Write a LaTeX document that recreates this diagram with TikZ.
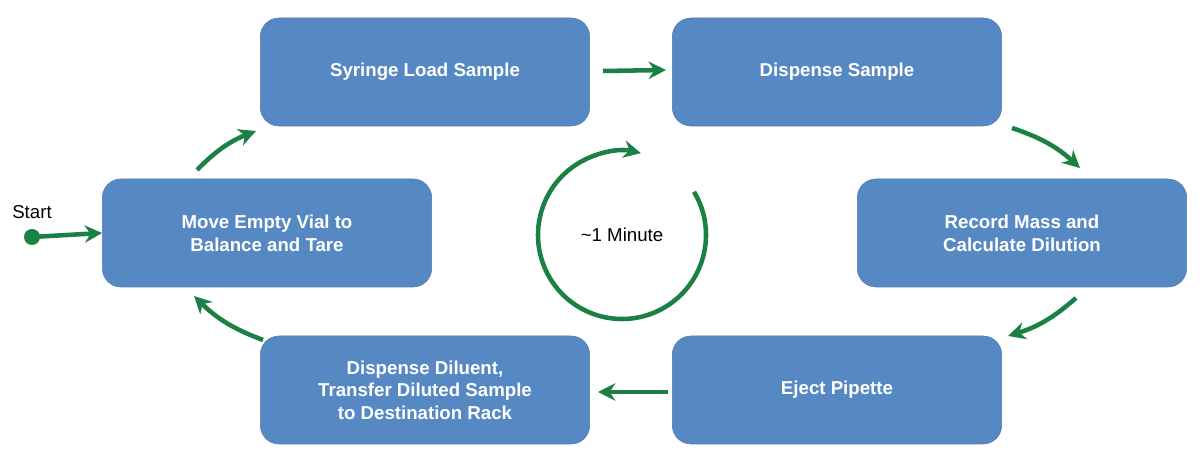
\documentclass[tikz,border=0pt]{standalone}
\usepackage{fontspec}
\setmainfont{Liberation Sans}
\usetikzlibrary{arrows.meta}
\definecolor{boxblue}{HTML}{5689C4}
\definecolor{boxedge}{HTML}{4A78AE}
\definecolor{flowgreen}{HTML}{1B8043}
\tikzset{
  stage/.style={draw=boxedge, fill=boxblue, rounded corners=14pt, minimum width=247pt,
    minimum height=81pt, text=white, font=\bfseries\fontsize{14}{17}\selectfont,
    align=center},
  flow/.style={draw=flowgreen, line width=3.4pt, -{Stealth[length=13pt,width=13pt]}}
}
\begin{document}
\begin{tikzpicture}[x=0.75pt,y=-0.75pt]
        \useasboundingbox (0,0) rectangle (1200,466);
        \node[stage] (load) at (425,72) {Syringe Load Sample};
        \node[stage] (disp) at (837,72) {Dispense Sample};
        \node[stage] (move) at (267,233) {Move Empty Vial to\\Balance and Tare};
        \node[stage] (rec) at (1022,233) {Record Mass and\\Calculate Dilution};
        \node[stage] (dil) at (425,390) {Dispense Diluent,\\Transfer Diluted Sample\\to Destination Rack};
        \node[stage] (ej) at (837,390) {Eject Pipette};
        % start
        \fill[flowgreen] (32,237) circle (6pt);
        \coordinate (s0) at (32,237);
        \node[font=\fontsize{14}{17}\selectfont] (start) at (32,212) {Start};
        \draw[flow] (s0) -- (move.west);
        % gaps between the stages
        \coordinate (a1) at (197,170); \coordinate (a2) at (256,131);
        \coordinate (b1) at (603,71);  \coordinate (b2) at (666,70);
        \coordinate (c1) at (1012,128); \coordinate (c2) at (1080,168);
        \coordinate (d1) at (1076,298); \coordinate (d2) at (1008,336);
        \coordinate (e1) at (668,392); \coordinate (e2) at (598,392);
        \coordinate (f1) at (263,340); \coordinate (f2) at (194,296);
        \draw[flow] (a1) to[bend left=12] (a2);
        \draw[flow] (b1) -- (b2);
        \draw[flow] (c1) to[bend left=12] (c2);
        \draw[flow] (d1) to[bend left=12] (d2);
        \draw[flow] (e1) -- (e2);
        \draw[flow] (f1) to[bend left=12] (f2);
        % cycle time
        \node[font=\fontsize{14}{17}\selectfont] (time) at (622,235) {\textasciitilde1 Minute};
        \draw[flow] (time) ++(31:63pt) arc[start angle=31, end angle=-283, radius=63pt];
      \end{tikzpicture}
\end{document}
